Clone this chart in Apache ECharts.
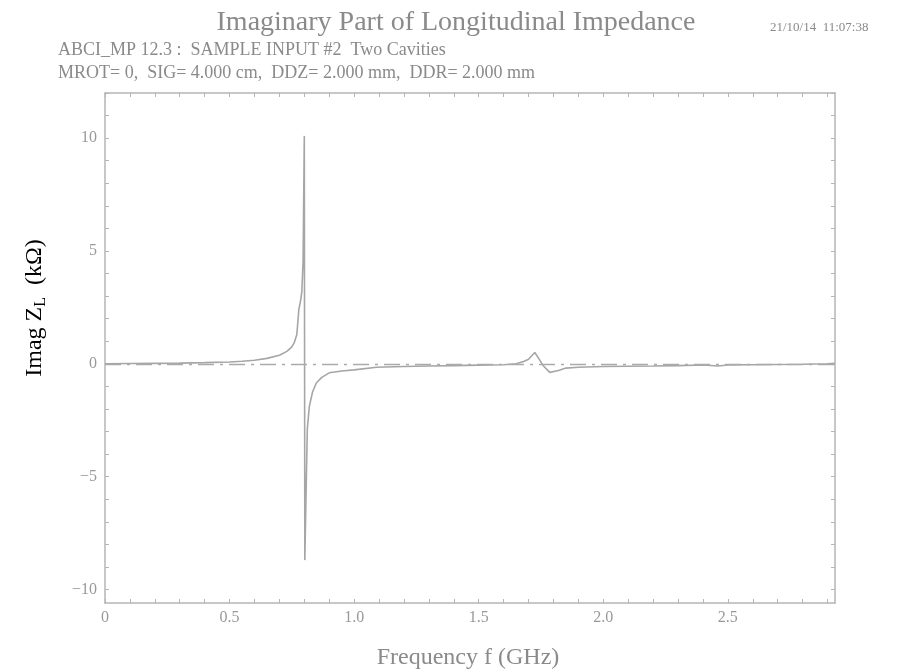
<!DOCTYPE html>
<html><head><meta charset="utf-8">
<script src="https://cdn.jsdelivr.net/npm/echarts@6/dist/echarts.min.js"></script>
<style>html,body{margin:0;padding:0;background:#fff}#c{width:897px;height:672px}</style>
</head><body><div id="c"></div>
<script>
const freq = [0, 0.1, 0.2, 0.3, 0.4, 0.5, 0.55, 0.6, 0.65, 0.7, 0.73, 0.75, 0.76, 0.77, 0.778, 0.785, 0.79, 0.795, 0.8, 0.802, 0.812, 0.82, 0.833, 0.848, 0.87, 0.9, 0.95, 1.0, 1.09, 1.2, 1.3, 1.4, 1.5, 1.6, 1.65, 1.68, 1.7, 1.725, 1.74, 1.76, 1.785, 1.82, 1.85, 1.9, 2.0, 2.1, 2.2, 2.3, 2.4, 2.46, 2.5, 2.6, 2.7, 2.8, 2.9, 2.93];
const imagZ = [0, 0.01, 0.02, 0.03, 0.05, 0.08, 0.11, 0.16, 0.24, 0.38, 0.55, 0.75, 0.95, 1.3, 2.4, 2.8, 3.2, 4.5, 10.1, -8.7, -2.9, -1.9, -1.25, -0.85, -0.6, -0.4, -0.32, -0.27, -0.15, -0.12, -0.1, -0.08, -0.06, -0.04, 0.0, 0.1, 0.2, 0.5, 0.25, -0.1, -0.38, -0.3, -0.19, -0.15, -0.12, -0.11, -0.1, -0.08, -0.05, -0.1, -0.05, -0.04, -0.03, -0.02, 0.0, 0.02];
const xLabels = [0, 0.5, 1.0, 1.5, 2.0, 2.5];
const yLabels = [-10, -5, 0, 5, 10];
const xTicks = []; for (let i = 0; i <= 29; i++) xTicks.push(+(i * 0.1).toFixed(1));
const yTicks = []; for (let i = -10; i <= 12; i++) yTicks.push(i);

const gray = '#999';
const textGray = '#8a8a8a';
const axisColor = '#b5b5b5';
const font = 'Liberation Serif';
const chart = echarts.init(document.getElementById('c'));
const baseX = {
  type: 'value', min: 0, max: 2.93,
  axisLine: { show: true, onZero: false, lineStyle: { color: axisColor, width: 1.5 } },
  axisTick: { show: true, inside: true, length: 4, customValues: xTicks, lineStyle: { color: axisColor } },
  splitLine: { show: false }
};
const baseY = {
  type: 'value', min: -10.6, max: 12.0,
  axisLine: { show: true, onZero: false, lineStyle: { color: axisColor, width: 1.5 } },
  axisTick: { show: true, inside: true, length: 4, customValues: yTicks, lineStyle: { color: axisColor } },
  splitLine: { show: false }
};
chart.setOption({
  animation: false,
  backgroundColor: '#fff',
  grid: { left: 105, right: 62, top: 93, bottom: 69 },
  title: [
    { text: 'Imaginary Part of Longitudinal Impedance', left: 456, top: 9, textAlign: 'center', padding: 0,
      textStyle: { fontFamily: font, fontWeight: 'normal', fontSize: 28, color: textGray } },
    { text: '21/10/14  11:07:38', left: 770, top: 21, padding: 0,
      textStyle: { fontFamily: font, fontWeight: 'normal', fontSize: 13, color: textGray } },
    { text: 'ABCI_MP 12.3 :  SAMPLE INPUT #2  Two Cavities', left: 58, top: 41, padding: 0,
      textStyle: { fontFamily: font, fontWeight: 'normal', fontSize: 18, color: textGray } },
    { text: 'MROT= 0,  SIG= 4.000 cm,  DDZ= 2.000 mm,  DDR= 2.000 mm', left: 58, top: 64, padding: 0,
      textStyle: { fontFamily: font, fontWeight: 'normal', fontSize: 18, color: textGray } }
  ],
  graphic: [
    { type: 'text', x: 468, y: 658, style: { text: 'Frequency f (GHz)', font: '24px "Liberation Serif"', fill: textGray, textAlign: 'center', textVerticalAlign: 'middle' } },
    { type: 'text', x: 35, y: 308, rotation: Math.PI / 2,
      style: { text: '{a|Imag Z}{s|L}{a|  (kΩ)}', textAlign: 'center', textVerticalAlign: 'middle',
        rich: { a: { font: '24px "Liberation Serif"', color: textGray },
                s: { font: '16px "Liberation Serif"', color: textGray, padding: [12, 0, 0, 0] } } } }
  ],
  xAxis: [
    Object.assign({}, baseX, { position: 'bottom',
      axisLabel: { show: true, customValues: xLabels, margin: 7, color: gray, fontFamily: font, fontSize: 16,
        formatter: v => v === 0 ? '0' : v.toFixed(1) } }),
    Object.assign({}, baseX, { position: 'top', axisLabel: { show: false } })
  ],
  yAxis: [
    Object.assign({}, baseY, { position: 'left',
      axisLabel: { show: true, customValues: yLabels, margin: 8, color: gray, fontFamily: font, fontSize: 16,
        formatter: v => v < 0 ? '\u2212' + Math.abs(v) : String(v) } }),
    Object.assign({}, baseY, { position: 'right', axisLabel: { show: false } })
  ],
  series: [
    { type: 'line', data: freq.map((f, i) => [f, imagZ[i]]), showSymbol: false, symbol: 'none',
      lineStyle: { color: '#a6a6a6', width: 1.6 }, z: 3,
      markLine: { silent: true, symbol: 'none', label: { show: false },
        lineStyle: { color: '#aaaaaa', width: 1.3, type: [16, 6, 3, 6] },
        data: [{ yAxis: 0 }] } }
  ]
});
</script></body></html>
